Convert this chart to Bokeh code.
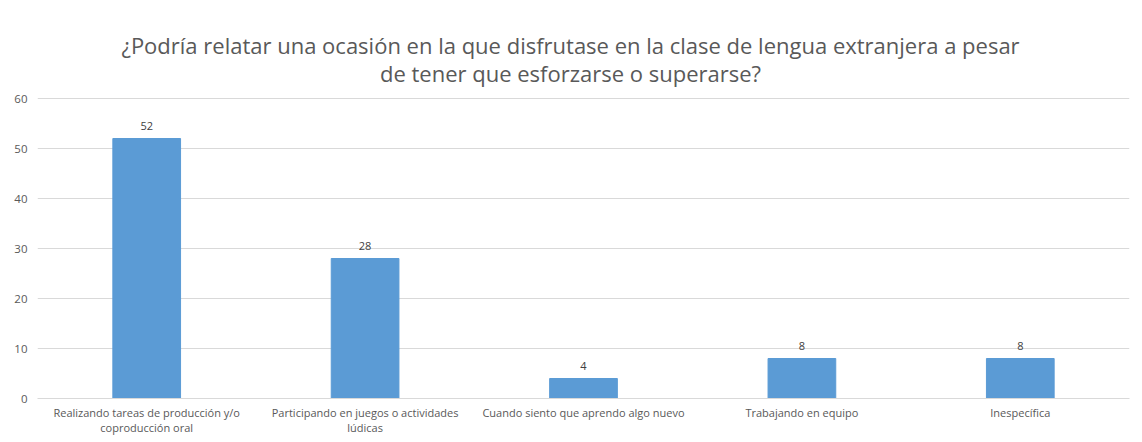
from bokeh.plotting import figure
from bokeh.models import ColumnDataSource, Range1d, FactorRange, LabelSet, Label
from bokeh.embed import file_html
from bokeh.resources import INLINE
from bokeh.core.properties import value

categories = ["Realizando tareas de producción y/o\ncoproducción oral",
              "Participando en juegos o actividades\nlúdicas",
              "Cuando siento que aprendo algo nuevo",
              "Trabajando en equipo",
              "Inespecífica"]
counts = [52, 28, 4, 8, 8]
y_ticks = [0, 10, 20, 30, 40, 50, 60]
title_lines = ["¿Podría relatar una ocasión en la que disfrutase en la clase de lengua extranjera a pesar",
               "de tener que esforzarse o superarse?"]

FONT = "Open Sans"
src = ColumnDataSource(dict(k=categories, v=counts, lab=[str(c) for c in counts]))

# frame extends above the 60 gridline to hold the title (5 px per unit, as in the axis)
p = figure(width=1142, height=442, x_range=FactorRange(*categories), y_range=Range1d(0, 75.6),
           output_backend="svg", toolbar_location=None, title=None,
           min_border_left=37, min_border_right=13, min_border_bottom=44, min_border_top=20)

for line, dy in zip(title_lines, [54, 26]):
    p.add_layout(Label(x=2.5, y=60, text=line, text_align="center", text_baseline="middle",
                       x_offset=-13, y_offset=dy, text_font=FONT, text_font_size="22px",
                       text_color="#595959"))

p.vbar(x="k", top="v", width=0.31, source=src, color="#5B9BD5")
p.add_layout(LabelSet(x="k", y="v", text="lab", source=src, text_align="center",
                      text_baseline="bottom", y_offset=9, text_font=value(FONT),
                      text_font_size="11px", text_color="#404040"))

p.outline_line_color = None
p.xgrid.grid_line_color = None
p.ygrid.grid_line_color = "#D9D9D9"
p.yaxis.ticker = y_ticks
p.yaxis.axis_line_color = None
p.yaxis.major_tick_line_color = None
p.yaxis.minor_tick_line_color = None
p.yaxis.major_tick_out = 0
p.yaxis.minor_tick_out = 0
p.yaxis.major_label_text_font = FONT
p.yaxis.major_label_text_font_size = "11.5px"
p.yaxis.major_label_text_color = "#595959"
p.yaxis.major_label_standoff = 10
p.xaxis.axis_line_color = "#D9D9D9"
p.xaxis.major_tick_line_color = None
p.xaxis.major_tick_out = 0
p.xaxis.minor_tick_out = 0
p.xaxis.axis_label_standoff = 0
p.xaxis.major_label_text_font = FONT
p.xaxis.major_label_text_font_size = "11px"
p.xaxis.major_label_text_line_height = 1.0
p.xaxis.major_label_text_color = "#595959"
p.xaxis.major_label_standoff = 6
p.x_range.range_padding = 0
p.x_range.factor_padding = 0

open("out.html", "w").write(file_html(p, INLINE))
